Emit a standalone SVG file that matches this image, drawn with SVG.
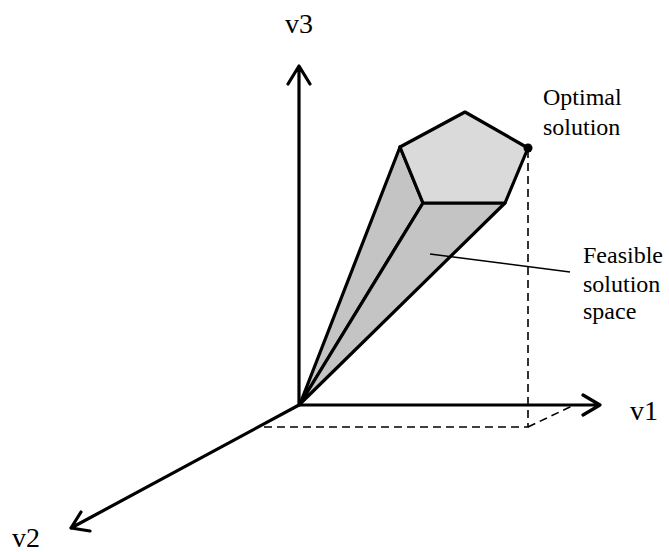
<svg xmlns="http://www.w3.org/2000/svg" width="669" height="552" viewBox="0 0 669 552">
<style>
.axis{stroke:#000;stroke-width:3.2;fill:none;stroke-linecap:round;stroke-linejoin:round}
.edge{stroke:#000;stroke-width:3.2;stroke-linejoin:round}
.dash{stroke:#000;stroke-width:1.6;fill:none;stroke-dasharray:8 5}
.ax{font-family:"Liberation Serif","Times New Roman",serif;font-size:28px;fill:#000}
.lbl{font-family:"Liberation Serif","Times New Roman",serif;font-size:24px;fill:#000}
</style>
<rect width="669" height="552" fill="#fff"/>
<g id="feasible-space">
<polygon class="edge" points="300,404 400,147 423,203" fill="#c4c4c4"/>
<polygon class="edge" points="300,404 423,203 505,203" fill="#c4c4c4"/>
<polygon class="edge" points="400,147 465,112 528,148 505,203 423,203" fill="#dadada"/>
</g>
<g id="optimal-point">
<circle cx="528" cy="148" r="4.5" fill="#000"/>
</g>
<g id="connectors">
<path class="dash" d="M528 150 V427 H260"/>
<path class="dash" d="M528 427 L572 406"/>
<path class="axis" d="M299 405 V66 M288 84 L299 66 L310 84"/>
<path class="axis" d="M299 405 H600 M583 395 L600 405 L583 415"/>
<path class="axis" d="M299 405 L71 528 M81 512 L71 528 L90 531"/>
<line x1="430" y1="254" x2="570" y2="272" stroke="#000" stroke-width="1.5"/>
</g>
<g id="labels">
<text class="ax" x="285" y="33">v3</text>
<text class="ax" x="630" y="420">v1</text>
<text class="ax" x="12" y="547">v2</text>
<text class="lbl" x="543" y="105">Optimal</text>
<text class="lbl" x="543" y="135">solution</text>
<text class="lbl" x="583" y="263">Feasible</text>
<text class="lbl" x="583" y="292">solution</text>
<text class="lbl" x="583" y="319">space</text>
</g>
</svg>
